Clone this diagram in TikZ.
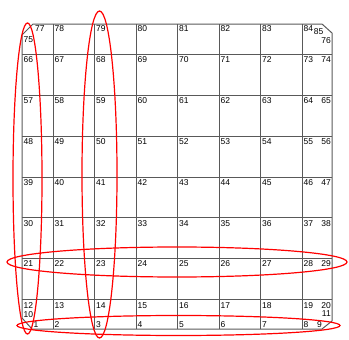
\documentclass[tikz,border=0pt]{standalone}
\usepackage{fontspec}
\setmainfont{Liberation Sans}
\begin{document}
\begin{tikzpicture}[x=1pt,y=-1pt,
  grid/.style={draw=black!65, line width=1pt, line join=miter},
  lbl/.style={inner sep=0pt, font=\fontsize{8.5}{9}\selectfont, text=black},
  loopline/.style={draw=red, line width=1.2pt}]
\useasboundingbox (0,0) rectangle (349,340);

% grid points (inner rows 12..74)
\foreach \y [count=\r] in {299.5,258,217.5,177,136,95,54} {
  \foreach \x [count=\c from 0] in {22,53,94.5,136,177.5,219,260.5,302,332} {
    \pgfmathtruncatemacro\k{12+9*(\r-1)+\c}
    \coordinate (n\k) at (\x,\y);
  }
}
% bottom row 1..9
\foreach \x [count=\c from 1] in {32,53,94.5,136,177.5,219,260.5,302,322}
  \coordinate (n\c) at (\x,329);
% top row 77..85
\foreach \x [count=\c from 77] in {33,53,94.5,136,177.5,219,260.5,302,322}
  \coordinate (n\c) at (\x,24);
% corner points
\coordinate (n10) at (22,318);
\coordinate (n11) at (332,321);
\coordinate (n75) at (22,35);
\coordinate (n76) at (332,33);

% outline
\draw[grid] (n1) -- (n9) -- (n11) -- (n76) -- (n85) -- (n77) -- (n75) -- (n10) -- cycle;
% horizontal lines
\foreach \r in {0,...,6} {
  \pgfmathtruncatemacro\a{12+9*\r}
  \pgfmathtruncatemacro\b{20+9*\r}
  \draw[grid] (n\a) -- (n\b);
}
% vertical lines
\foreach \c in {2,...,8} {
  \pgfmathtruncatemacro\t{\c+76}
  \draw[grid] (n\c) -- (n\t);
}

% labels of inner rows
\foreach \r in {0,...,6} {
  \foreach \c in {0,...,7} {
    \pgfmathtruncatemacro\k{12+9*\r+\c}
    \node[lbl, anchor=north west] (l\k) at ([shift={(1.5,2.5)}]n\k) {\k};
  }
  \pgfmathtruncatemacro\k{20+9*\r}
  \node[lbl, anchor=north east] (l\k) at ([shift={(-1,2.5)}]n\k) {\k};
}
% top row labels
\node[lbl, anchor=north west] (l77) at ([shift={(2,1.5)}]n77) {77};
\foreach \k in {78,...,84}
  \node[lbl, anchor=north west] (l\k) at ([shift={(1.5,1.5)}]n\k) {\k};
\node[lbl, anchor=north east] (l85) at ([shift={(1.5,4)}]n85) {85};
% bottom row labels
\foreach \k in {1,...,8}
  \node[lbl, anchor=south west] (l\k) at ([shift={(1.5,-1)}]n\k) {\k};
\node[lbl, anchor=south east] (l9) at ([shift={(0,-1)}]n9) {9};
% corner labels
\node[lbl, anchor=south west] (l10) at ([shift={(1.5,0)}]n10) {10};
\node[lbl, anchor=south east] (l11) at ([shift={(-1,-4)}]n11) {11};
\node[lbl, anchor=north west] (l75) at ([shift={(1.5,1.5)}]n75) {75};
\node[lbl, anchor=north east] (l76) at ([shift={(-1,4)}]n76) {76};

% red loops
\draw[loopline] (27.5,178.5) ellipse [x radius=14.5pt, y radius=155.5pt];
\draw[loopline] (99.5,174.5) ellipse [x radius=17.5pt, y radius=163.5pt];
\draw[loopline] (177,262) ellipse [x radius=170pt, y radius=15pt];
\draw[loopline] (178.5,325.5) ellipse [x radius=161.5pt, y radius=10pt];
\end{tikzpicture}
\end{document}
